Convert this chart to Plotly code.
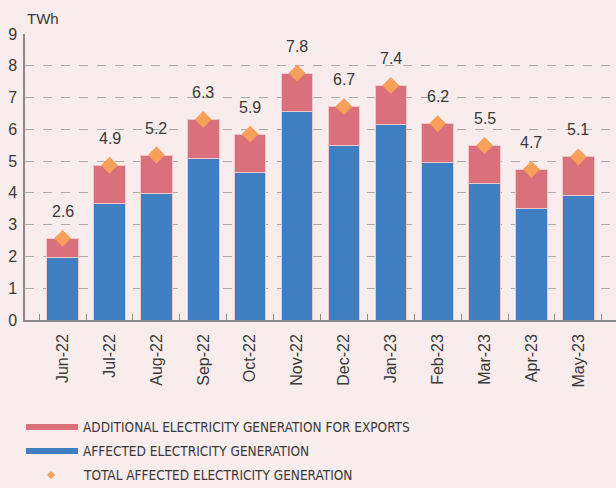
import plotly.graph_objects as go

months = ["Jun-22", "Jul-22", "Aug-22", "Sep-22", "Oct-22", "Nov-22",
          "Dec-22", "Jan-23", "Feb-23", "Mar-23", "Apr-23", "May-23"]
affected = [1.97, 3.66, 3.98, 5.09, 4.63, 6.55, 5.50, 6.15, 4.96, 4.29, 3.51, 3.91]
total = [2.57, 4.87, 5.19, 6.31, 5.85, 7.77, 6.72, 7.38, 6.18, 5.49, 4.74, 5.13]
total_labels = ["2.6", "4.9", "5.2", "6.3", "5.9", "7.8", "6.7", "7.4", "6.2", "5.5", "4.7", "5.1"]
additional = [round(t - a, 2) for t, a in zip(total, affected)]

legend_names = ["ADDITIONAL ELECTRICITY GENERATION FOR EXPORTS",
                "AFFECTED ELECTRICITY GENERATION",
                "TOTAL AFFECTED ELECTRICITY GENERATION"]

PINK = "#D9707C"
BLUE = "#3F7FC1"
ORANGE = "#F7A05A"
BG = "#F8ECEC"
TXT = "#3a3a3a"
FONT = "Liberation Sans, Arial, sans-serif"
NARROW = "DejaVu Sans Condensed, Liberation Sans Narrow, sans-serif"

L, T, B = 25, 34, 320
W_PLOT = 616 - L
H_PLOT = B - T


def px_x(px):
    return (px - L) / W_PLOT


def px_y(py):
    return (B - py) / H_PLOT


fig = go.Figure()
fig.add_trace(go.Bar(x=months, y=affected, name=legend_names[1], marker_color=BLUE,
                     marker_line=dict(color="#EDC9CD", width=1), showlegend=False))
fig.add_trace(go.Bar(x=months, y=additional, name=legend_names[0], marker_color=PINK,
                     marker_line=dict(color="#EDC9CD", width=1), showlegend=False))
fig.add_trace(go.Scatter(x=months, y=total, name=legend_names[2], mode="markers",
                         marker=dict(symbol="diamond", size=13, color=ORANGE),
                         showlegend=False))

for m, t, lab in zip(months, total, total_labels):
    fig.add_annotation(x=m, y=t, text=lab, showarrow=False, yshift=27,
                       font=dict(family=FONT, size=16, color=TXT))

fig.add_annotation(xref="paper", yref="paper", x=0, y=1, xanchor="left", yanchor="bottom",
                   text="TWh", showarrow=False, yshift=5,
                   font=dict(family=FONT, size=15, color=TXT))

# custom legend
leg_y = [427, 451, 475]
for name, yy in zip(legend_names, leg_y):
    fig.add_annotation(xref="paper", yref="paper", x=px_x(81), y=px_y(yy),
                       xanchor="left", yanchor="middle", showarrow=False, text=name,
                       font=dict(family=NARROW, size=13.5, color=TXT))

fig.add_shape(type="rect", xref="paper", yref="paper",
              x0=px_x(26), x1=px_x(78), y0=px_y(430), y1=px_y(424),
              fillcolor=PINK, line=dict(width=0))
fig.add_shape(type="rect", xref="paper", yref="paper",
              x0=px_x(26), x1=px_x(78), y0=px_y(454), y1=px_y(448),
              fillcolor=BLUE, line=dict(width=0))
fig.add_shape(type="path", xref="paper", yref="paper",
              path=f"M {px_x(51)},{px_y(471)} L {px_x(55)},{px_y(475)} L {px_x(51)},{px_y(479)} L {px_x(47)},{px_y(475)} Z",
              fillcolor=ORANGE, line=dict(width=0))

fig.update_layout(
    barmode="stack",
    bargap=0.33,
    width=616, height=488,
    margin=dict(l=L, r=0, t=T, b=488 - B),
    paper_bgcolor=BG, plot_bgcolor=BG,
    font=dict(family=FONT, color=TXT),
    showlegend=False,
)
fig.update_xaxes(showline=True, linecolor="#8a8a8a", linewidth=1.5,
                 ticks="inside", ticklen=6, tickcolor="#8a8a8a", tickson="boundaries",
                 tickangle=-90, tickfont=dict(family=FONT, size=16, color=TXT),
                 showgrid=False, automargin=False, ticklabelstandoff=6)
fig.update_yaxes(range=[0, 9], dtick=1, showline=True, linecolor="#8a8a8a", linewidth=1.5,
                 showgrid=True, gridcolor="#ababab", griddash="dash", gridwidth=1,
                 zeroline=False, ticklabelstandoff=3, automargin=False,
                 tickfont=dict(family=FONT, size=16, color=TXT))

fig.write_html("out.html", config={"displayModeBar": False},
               post_script="document.body.style.margin='0';document.body.style.background='#F8ECEC';")
